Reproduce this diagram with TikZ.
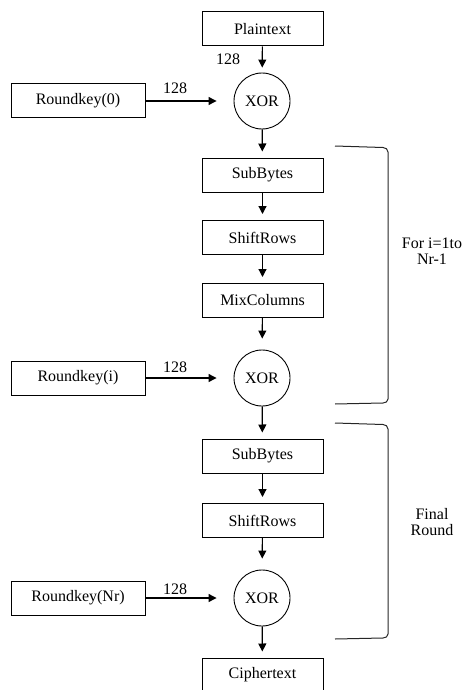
\documentclass[tikz,border=0pt]{standalone}
\usepackage{fontspec}
\setmainfont{Liberation Serif}
\usetikzlibrary{arrows.meta}
\begin{document}
\begin{tikzpicture}[x=1pt,y=-1pt,
  txt/.style={font=\fontsize{16}{16}\selectfont},
  box/.style={txt, draw=black, line width=1pt, minimum width=121pt, minimum height=34pt, inner sep=0pt},
  keybox/.style={box, minimum width=134pt},
  xorc/.style={txt, draw=black, circle, line width=0.9pt, minimum size=56pt, inner sep=0pt},
  arr/.style={line width=1.2pt, -{Triangle[width=8pt,length=8pt]}, shorten >=6pt},
  arrc/.style={arr, shorten >=11pt},
  arrk/.style={arr, shorten >=17pt},
  lbl/.style={txt, inner sep=0pt},
  side/.style={txt, inner sep=0pt, align=center},
  brace/.style={line width=1pt, draw=black!85}
]
\useasboundingbox (0,0) rectangle (466,690);

% main column
\node[box] (pt) at (262.5,29) {Plaintext};
\node[xorc] (x1) at (262,101) {XOR};
\node[box] (sb1) at (262.5,175) {SubBytes};
\node[box] (sr1) at (262.5,237.5) {ShiftRows};
\node[box] (mc) at (262.5,300.5) {MixColumns};
\node[xorc] (x2) at (262,378) {XOR};
\node[box] (sb2) at (262.5,456) {SubBytes};
\node[box] (sr2) at (262.5,520.5) {ShiftRows};
\node[xorc] (x3) at (262,598) {XOR};
\node[box] (ct) at (262.5,675) {Ciphertext};

% round keys
\node[keybox] (k0) at (78,101) {Roundkey(0)};
\node[keybox] (ki) at (78,378) {Roundkey(i)};
\node[keybox] (kn) at (78,598) {Roundkey(Nr)};

% connectors
\draw[arr, shorten >=5pt] (pt) -- (x1);
\draw[arr] (x1) -- (sb1);
\draw[arr] (sb1) -- (sr1);
\draw[arr] (sr1) -- (mc);
\draw[arrc] (mc) -- (x2);
\draw[arr] (x2) -- (sb2);
\draw[arr] (sb2) -- (sr2);
\draw[arrc] (sr2) -- (x3);
\draw[arr] (x3) -- (ct);
\draw[arrk] (k0) -- (x1);
\draw[arrk] (ki) -- (x2);
\draw[arrk] (kn) -- (x3);

% bit-width labels
\node[lbl] (l0) at (228,59) {128};
\node[lbl] (l1) at (175,88) {128};
\node[lbl] (l2) at (175,367) {128};
\node[lbl] (l3) at (175,589) {128};

% brackets
\draw[brace] (335,146) -- (383,147.5) to[out=0,in=90] (388,152) -- (388,399) to[out=-90,in=0] (383,403) -- (335,404);
\draw[brace] (335,423) -- (383,424.5) to[out=0,in=90] (388,429) -- (388,634) to[out=-90,in=0] (383,638) -- (335,639);

% side labels
\node[side] (r1) at (432,251.5) {For i=1to\\Nr-1};
\node[side] (r2) at (432,522.5) {Final\\Round};
\end{tikzpicture}
\end{document}
